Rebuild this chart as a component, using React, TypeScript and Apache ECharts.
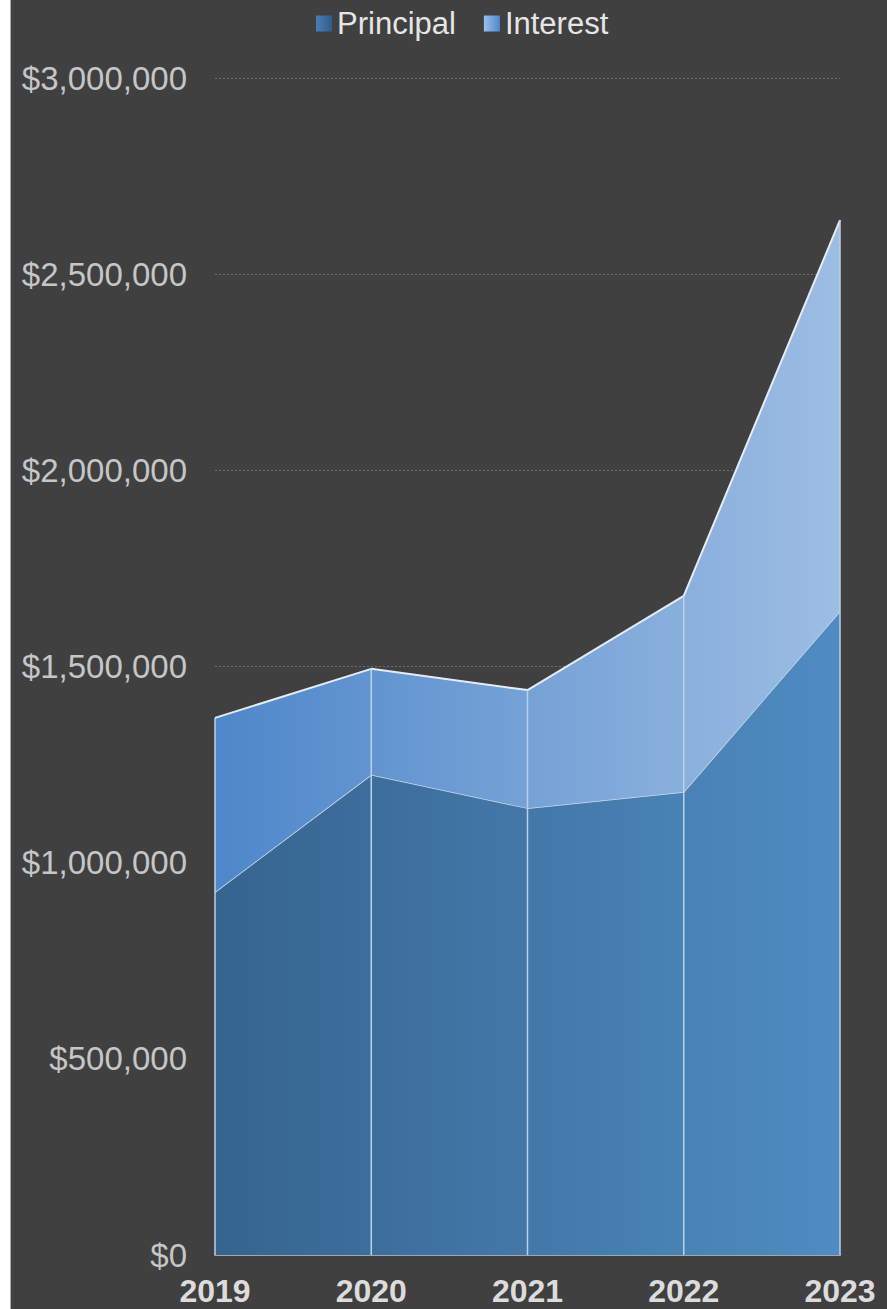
import React, { useEffect, useRef } from "react";
import * as echarts from "echarts";

const categories = ["2019", "2020", "2021", "2022", "2023"];
const principal = [925000, 1224000, 1139000, 1180000, 1641000];
const interest = [444000, 270000, 301000, 500000, 997000];
const yTicks = { min: 0, max: 3000000, interval: 500000 };

const FONT = "'Liberation Sans', Arial, sans-serif";

export default function App() {
  const ref = useRef<HTMLDivElement>(null);
  useEffect(() => {
    document.body.style.margin = "0";
    const chart = echarts.init(ref.current!, null, { renderer: "svg" });
    const totals = principal.map((p, i) => p + interest[i]);
    const hGrad = (a: string, b: string) =>
      new echarts.graphic.LinearGradient(0, 0, 1, 0, [
        { offset: 0, color: a },
        { offset: 1, color: b },
      ]);
    chart.setOption({
      animation: false,
      backgroundColor: "#404040",
      textStyle: { fontFamily: FONT },
      legend: {
        left: 300,
        top: 3,
        itemWidth: 16,
        itemHeight: 16,
        itemGap: 28,
        icon: "rect",
        textStyle: { color: "#e6e6e6", fontSize: 31, fontFamily: FONT },
        data: [
          { name: "Principal", itemStyle: { color: hGrad("#4a7fb3", "#2f5d8a"), borderWidth: 0 } },
          { name: "Interest", itemStyle: { color: hGrad("#9cc0ea", "#4f88cb"), borderWidth: 0 } },
        ],
      },
      grid: { left: 204, right: 47, top: 78, bottom: 54, containLabel: false },
      xAxis: {
        type: "category",
        data: categories,
        boundaryGap: false,
        axisLine: { lineStyle: { color: "#a6a6a6", width: 2 } },
        axisTick: { show: false },
        axisLabel: { color: "#dcdcdc", fontSize: 32, fontWeight: "bold", margin: 20, fontFamily: FONT },
        splitLine: { show: false },
      },
      yAxis: {
        type: "value",
        min: yTicks.min,
        max: yTicks.max,
        interval: yTicks.interval,
        axisLine: { show: false },
        axisTick: { show: false },
        axisLabel: {
          color: "#c6c6c6",
          fontSize: 33,
          margin: 28,
          fontFamily: FONT,
          formatter: (v: number) => "$" + v.toLocaleString("en-US"),
        },
        splitLine: { lineStyle: { color: "#6e6e6e", type: [2, 2], width: 1 } },
      },
      series: [
        {
          name: "Principal",
          type: "line",
          stack: "total",
          data: principal,
          symbol: "none",
          lineStyle: { color: "#d0dcea", width: 1.5 },
          areaStyle: { color: hGrad("#36648f", "#4f8cc2"), opacity: 1 },
          z: 2,
        },
        {
          name: "Interest",
          type: "line",
          stack: "total",
          data: interest,
          symbol: "none",
          lineStyle: { color: "#e4ecf5", width: 2 },
          areaStyle: { color: hGrad("#4e87ca", "#9dbde3"), opacity: 1 },
          z: 3,
        },
        {
          name: "drop",
          type: "custom",
          data: totals.map((t, i) => [i, t]),
          z: 4,
          silent: true,
          renderItem: (params: any, api: any) => {
            const i = api.value(0);
            const t = api.value(1);
            const p0 = api.coord([i, 0]);
            const p1 = api.coord([i, t]);
            return {
              type: "line",
              shape: { x1: p0[0], y1: p0[1], x2: p1[0], y2: p1[1] },
              style: { stroke: "#bdd0e6", lineWidth: 1.5 },
            };
          },
        },
      ],
    });
    return () => chart.dispose();
  }, []);
  return (
    <div style={{ position: "relative", width: 887, height: 1309, background: "#ffffff" }}>
      <div
        style={{
          position: "absolute",
          left: 10,
          top: 0,
          width: 877,
          height: 1309,
          borderLeft: "1px solid #a8a8a8",
          boxSizing: "border-box",
        }}
      >
        <div ref={ref} style={{ width: 876, height: 1309 }} />
      </div>
    </div>
  );
}
